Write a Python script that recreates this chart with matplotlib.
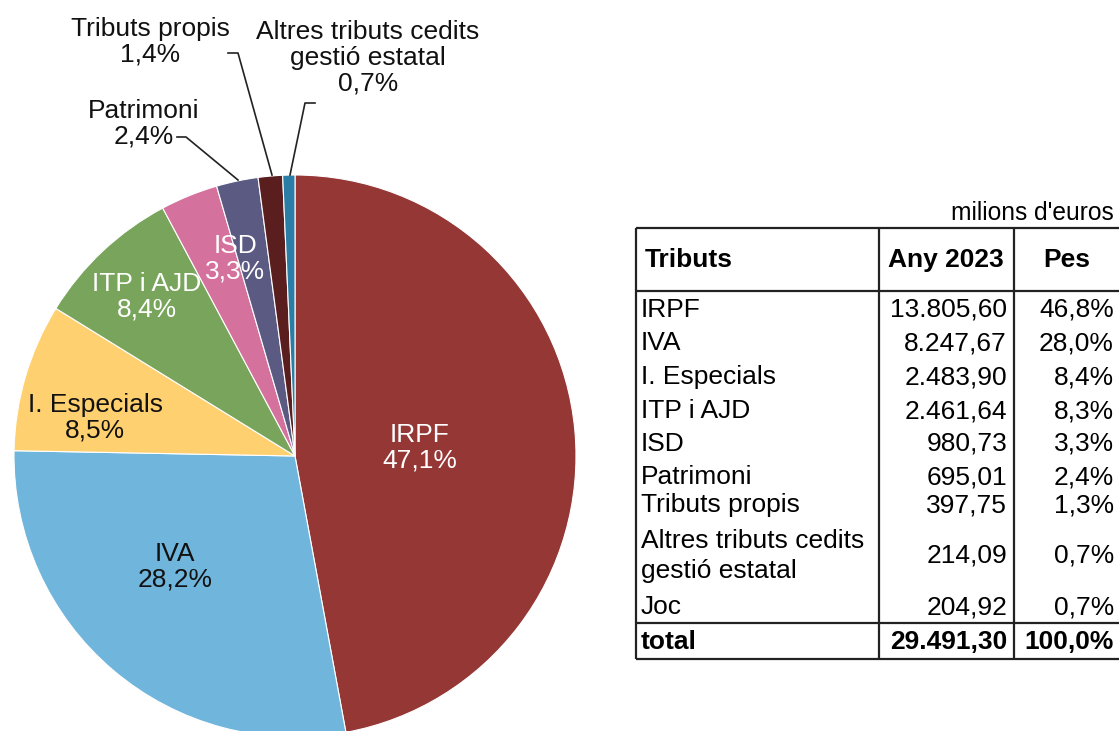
import matplotlib.pyplot as plt

plt.rcParams['font.family'] = ['Liberation Sans', 'DejaVu Sans']

# pie data (percentages shown in the chart)
pie_labels = ["IRPF", "IVA", "I. Especials", "ITP i AJD", "ISD", "Patrimoni",
              "Tributs propis", "Altres tributs cedits\ngestió estatal"]
pie_values = [47.1, 28.2, 8.5, 8.4, 3.3, 2.4, 1.4, 0.7]
pie_colors = ["#953735", "#70B5DB", "#FFD070", "#78A55B", "#D4719D", "#5B5A82",
              "#5A1E1E", "#2A7EA6"]

# table data
tab_names = ["IRPF", "IVA", "I. Especials", "ITP i AJD", "ISD", "Patrimoni",
             "Tributs propis", "Altres tributs cedits\ngestió estatal", "Joc"]
tab_values = ["13.805,60", "8.247,67", "2.483,90", "2.461,64", "980,73", "695,01",
              "397,75", "214,09", "204,92"]
tab_pes = ["46,8%", "28,0%", "8,4%", "8,3%", "3,3%", "2,4%", "1,3%", "0,7%", "0,7%"]
total_value = "29.491,30"
total_pes = "100,0%"

W, H = 1119, 731
fig = plt.figure(figsize=(W / 100, H / 100), dpi=100)
ax = fig.add_axes([0, 0, 1, 1])

# work in pixel units, y measured from the top
def Y(y):
    return H - y

cx, cy, r = 295, 456, 281
wedges, _ = ax.pie(pie_values, colors=pie_colors, startangle=90, counterclock=False,
                   center=(cx, Y(cy)), radius=r,
                   wedgeprops=dict(edgecolor="white", linewidth=0.8))

FS = 19
# label positions for each slice (text centre, y from top) and colour
label_pos = [(420, 448), (175, 567), (95, 418), (147, 297), (235, 259),
             (144, 124), (150, 42), (368, 58)]
label_col = ["white", "#111111", "#111111", "white", "white",
             "#111111", "#111111", "#111111"]
for name, val, (lx, ly), col in zip(pie_labels, pie_values, label_pos, label_col):
    txt = name + "\n" + ("%.1f%%" % val).replace(".", ",")
    ax.text(lx, Y(ly), txt, ha="center", va="center", fontsize=FS, color=col,
            linespacing=1.1)

# leader lines for the small slices
leaders = [
    [(177, 137), (186, 137), (238, 180)],
    [(228, 53), (238, 53), (272, 175)],
    [(315, 103), (305, 103), (290, 175)],
]
for pts in leaders:
    ax.plot([p[0] for p in pts], [Y(p[1]) for p in pts], color="#222222", lw=1.2)

# table
lc = "#222222"
x0, x1, x2, x3 = 636, 879, 1014, 1119
for yy in [228, 291, 623, 659]:
    ax.plot([x0, x3], [Y(yy), Y(yy)], color=lc, lw=1.6, solid_capstyle="butt")
for xx in [x0, x1, x2]:
    ax.plot([xx, xx], [Y(228), Y(659)], color=lc, lw=1.6, solid_capstyle="butt")

ax.text(1114, Y(213), "milions d'euros", ha="right", va="center", fontsize=FS * 0.93)
ax.text(645, Y(260), "Tributs", ha="left", va="center", fontsize=FS, weight="bold")
ax.text(946, Y(260), "Any 2023", ha="center", va="center", fontsize=FS, weight="bold")
ax.text(1067, Y(260), "Pes", ha="center", va="center", fontsize=FS, weight="bold")

row_y = [310, 343, 377, 411, 444, 477, 505, 556, 607]
for name, v, p, yy in zip(tab_names, tab_values, tab_pes, row_y):
    ax.text(641, Y(yy), name, ha="left", va="center", fontsize=FS, linespacing=1.3)
    ax.text(1007, Y(yy), v, ha="right", va="center", fontsize=FS)
    ax.text(1114, Y(yy), p, ha="right", va="center", fontsize=FS)

ax.text(641, Y(642), "total", ha="left", va="center", fontsize=FS, weight="bold")
ax.text(1007, Y(642), total_value, ha="right", va="center", fontsize=FS, weight="bold")
ax.text(1114, Y(642), total_pes, ha="right", va="center", fontsize=FS, weight="bold")

ax.set_xlim(0, W)
ax.set_ylim(0, H)
ax.set_aspect("auto")
ax.axis("off")

fig.savefig("out.png", dpi=100, facecolor="white")
